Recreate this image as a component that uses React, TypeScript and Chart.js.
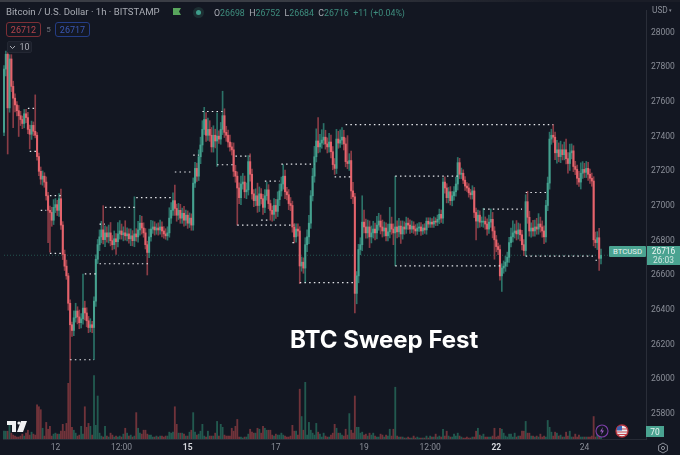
import React, { useEffect, useRef } from "react";
import { Chart, registerables } from "chart.js";

Chart.register(...registerables);

const firstOpen = 27425;
const closes = [
  27790,27875,27566,27848,27690,27622,27583,27550,27521,27499,
  27476,27532,27510,27442,27414,27465,27431,27408,27285,27200,
  27155,27172,27138,27059,26975,26963,26918,26992,27008,26975,
  27042,26890,26721,26653,26597,26439,26315,26282,26355,26394,
  26360,26327,26349,26411,26383,26338,26299,26315,26299,26451,
  26693,26777,26822,26862,26806,26845,26822,26845,26800,26777,
  26811,26794,26839,26856,26834,26845,26828,26839,26811,26828,
  26800,26839,26822,26862,26901,26873,26845,26777,26732,26822,
  26867,26879,26862,26873,26862,26879,26856,26839,26828,26845,
  26930,26975,27031,26986,26947,26975,26930,26958,26918,26947,
  26901,26930,26890,27132,27217,27172,27284,27352,27442,27499,
  27408,27442,27408,27341,27408,27375,27403,27386,27442,27521,
  27425,27408,27369,27341,27324,27200,27172,27104,27048,27127,
  27138,27082,27093,27256,27183,27070,27031,27059,27003,27070,
  27042,26992,27059,27093,27014,26975,26952,27003,26969,27037,
  27087,27127,27172,27082,27065,27014,27003,26879,26822,26867,
  26856,26654,26676,26642,26777,26822,26901,27059,27172,27284,
  27375,27341,27363,27380,27397,27358,27341,27369,27313,27239,
  27217,27386,27363,27380,27397,27358,27256,27245,27262,27087,
  27053,26496,26597,26749,26777,26907,26879,26845,26879,26822,
  26845,26867,26845,26890,26913,26879,26856,26873,26828,26851,
  26896,26867,26845,26879,26851,26884,26839,26879,26867,26901,
  26890,26867,26884,26867,26856,26873,26879,26856,26873,26862,
  26912,26896,26907,26896,26912,26907,26923,26952,26930,27138,
  27104,27048,27082,27031,27059,27082,27127,27250,27183,27189,
  27149,27115,27104,27076,27065,27087,26963,26913,26947,26907,
  26907,26912,26896,26867,26907,26923,26856,26805,26766,26749,
  26597,26642,26653,26676,26704,26789,26822,26845,26856,26839,
  26862,26834,26777,26743,27025,26935,26856,26873,26856,26879,
  26867,26896,26879,26856,26822,27003,27132,27386,27408,27397,
  27307,27324,27285,27324,27296,27324,27273,27245,27307,27318,
  27228,27211,27160,27138,27189,27211,27194,27217,27183,27160,
  27144,26805,26789,26817,26698,26716,
];
const upperWicks = [
  20,18,10,25,25,30,25,20,30,25,
  20,25,25,30,25,25,20,210,15,20,
  25,30,20,30,20,25,30,45,35,25,
  30,56,20,25,35,15,20,15,40,45,
  25,40,30,197,40,30,25,35,20,25,
  25,30,40,50,140,40,35,45,60,30,
  45,30,65,60,40,35,70,35,30,40,
  30,214,30,50,45,40,30,25,20,45,
  50,35,30,25,30,40,30,25,30,35,
  60,45,45,90,25,40,35,30,40,30,
  25,30,25,30,35,30,40,45,50,70,
  40,65,50,45,55,35,135,30,40,141,
  40,35,30,40,25,40,35,25,30,45,
  50,35,40,35,45,30,25,40,73,40,
  30,25,35,45,30,20,25,40,35,45,
  40,40,67,35,25,30,35,25,20,30,
  30,25,30,25,40,40,45,30,45,60,
  70,135,50,60,79,40,35,50,40,30,
  35,56,45,60,55,40,35,150,40,55,
  50,20,25,30,40,152,70,45,40,35,
  40,45,35,50,45,35,40,35,30,45,
  96,40,30,293,35,45,30,35,30,35,
  30,30,30,25,25,25,25,25,20,25,
  20,20,25,20,25,20,25,30,25,25,
  30,25,25,30,25,30,40,30,25,30,
  20,20,20,25,20,30,20,25,30,25,
  30,75,25,30,40,60,40,25,25,20,
  25,25,30,35,30,30,50,70,40,60,
  40,35,25,30,40,60,35,30,45,40,
  50,60,40,35,30,30,35,40,35,62,
  30,55,40,50,30,45,62,35,50,40,
  30,30,25,40,60,45,35,40,35,30,
  30,25,45,35,54,36,
];
const lowerWicks = [
  20,40,266,25,30,170,40,30,120,35,
  30,25,30,25,85,30,25,15,20,25,
  30,35,30,25,187,230,35,25,30,30,
  35,25,30,25,20,40,202,35,30,25,
  40,35,30,30,40,35,30,25,30,185,
  30,25,35,35,25,40,30,35,30,30,
  25,73,30,30,25,35,25,30,25,40,
  30,35,25,30,30,35,25,25,130,30,
  25,25,30,25,30,25,35,25,20,25,
  25,30,30,40,35,25,30,30,35,30,
  30,25,30,30,25,30,25,40,40,30,
  35,30,35,30,30,40,147,25,30,30,
  30,35,30,25,30,30,35,214,35,40,
  30,35,40,30,40,30,35,30,40,35,
  30,40,30,25,30,57,40,35,40,30,
  35,30,30,40,30,35,30,30,35,30,
  30,102,30,30,82,40,40,30,30,35,
  30,35,30,30,25,30,35,30,35,30,
  35,30,30,25,25,35,30,30,40,45,
  40,113,60,40,30,35,35,30,30,62,
  35,30,40,35,30,40,35,30,30,30,
  35,30,68,190,35,30,55,30,30,25,
  25,25,20,25,25,20,20,25,20,20,
  25,20,20,20,20,20,20,25,25,30,
  30,30,30,25,30,25,25,35,25,25,
  20,25,20,25,25,25,30,108,40,30,
  25,30,30,35,25,30,40,112,30,30,
  25,90,30,30,25,30,25,30,30,35,
  30,35,30,30,30,35,30,36,30,30,
  30,30,30,36,40,30,30,35,30,30,
  40,60,30,35,30,30,30,56,40,35,
  30,30,35,25,40,30,30,30,35,30,
  30,35,30,40,70,32,
];
const volumes = [
  8,8,8,16,6,4,3,2,2,3,
  5,3,6,9,4,7,5,4,35,33,
  30,11,3,17,10,13,3,5,6,5,
  5,8,15,8,16,57,81,12,9,6,
  3,4,13,5,33,12,16,13,4,65,
  14,44,6,3,2,13,3,2,6,4,
  2,3,2,3,2,5,11,6,3,4,
  2,3,27,11,6,5,9,9,5,4,
  4,2,2,3,2,3,3,2,3,3,
  7,6,7,33,15,6,6,6,5,3,
  3,7,9,27,7,4,5,8,15,3,
  2,8,3,3,3,6,18,3,15,12,
  4,3,3,3,11,8,13,20,2,2,
  1,2,2,5,10,7,6,6,11,10,
  6,13,11,9,9,9,4,3,5,4,
  4,6,4,3,2,2,3,14,8,8,
  4,51,23,9,58,4,17,9,6,4,
  16,7,5,2,6,3,2,2,4,6,
  15,11,6,6,4,3,10,4,26,9,
  6,44,12,12,6,7,4,5,3,6,
  4,6,3,2,2,5,4,2,4,3,
  10,3,10,53,3,2,2,2,1,1,
  2,1,1,3,1,2,1,1,1,1,
  3,1,3,2,2,5,2,3,2,10,
  3,8,3,2,2,5,3,6,3,2,
  1,1,2,1,1,2,2,8,11,4,
  3,5,2,2,2,2,3,11,2,3,
  11,10,6,3,2,5,5,2,6,2,
  3,3,8,8,18,6,6,3,3,2,
  3,2,5,2,3,2,19,12,7,3,
  7,6,3,4,2,2,7,3,8,2,
  2,5,2,4,2,2,2,2,2,2,
  3,23,2,4,4,3,
];
// [first hour, last hour, price]
const sweepLevels: [number, number, number][] = [
  [13,17,27563],[14,19,27315],[20,23,26975],[25,31,27060],[25,32,26727],
  [52,55,26896],[55,72,26992],[72,92,27048],[52,79,26667],[44,51,26608],
  [36,49,26113],[93,102,27196],[103,106,27294],[108,119,27545],[116,125,27238],
  [126,134,27288],[142,150,27144],[140,145,26918],[127,158,26890],[151,169,27241],
  [157,159,26789],[161,191,26558],[180,189,27168],[186,299,27469],[213,247,27172],
  [213,271,26655],[261,282,26982],[284,296,27078],[284,321,26711],[322,324,26687],
];
const lastPrice = 26716;
const xTickLabels: Record<number, string> = {
  28: "12", 64: "12:00", 100: "15", 148: "17", 196: "19", 232: "12:00", 268: "22", 316: "24",
};
const boldTicks = ["15", "22"];
const hourSlots = 350;
const hourNames = Array.from({ length: hourSlots }, (_, i) => `h${i}`);

const UP = "#46a18f";
const DOWN = "#e5636c";
const UP_WICK = "#2b7268";
const DOWN_WICK = "#8a3c46";
const UP_VOL = "#22594f";
const DOWN_VOL = "#70333a";
const BG = "#131722";
const FONT = "Roboto, sans-serif";

const opens = closes.map((_, i) => (i === 0 ? firstOpen : closes[i - 1]));
const rising = closes.map((c, i) => c >= opens[i]);
const Box: React.FC<{ l: number; t: number; w: number; h: number; style?: React.CSSProperties; children?: React.ReactNode }> = ({ l, t, w, h, style, children }) => (
  <div style={{ position: "absolute", left: l, top: t, width: w, height: h, boxSizing: "border-box", display: "flex", alignItems: "center", justifyContent: "center", fontFamily: FONT, ...style }}>{children}</div>
);

export default function App() {
  const ref = useRef<HTMLCanvasElement>(null);
  useEffect(() => {
    const chart = new Chart(ref.current!, {
      type: "bar",
      data: {
        labels: hourNames,
        datasets: [
          ...sweepLevels.map(([a, b, p]) => ({
            type: "line" as const,
            data: [{ x: hourNames[a], y: p }, { x: hourNames[b], y: p }],
            borderColor: "#e6e8ec",
            borderWidth: 1.2,
            borderDash: [1.5, 3.2],
            pointRadius: 0,
            yAxisID: "y",
            order: 0,
          })),
          {
            type: "line" as const,
            data: [{ x: hourNames[0], y: lastPrice }, { x: hourNames[hourSlots - 1], y: lastPrice }],
            borderColor: "#23544f",
            borderWidth: 1,
            borderDash: [1, 2],
            pointRadius: 0,
            yAxisID: "y",
            order: 5,
          },
          {
            label: "body",
            data: closes.map((c, i) => [opens[i], c]),
            backgroundColor: rising.map((u) => (u ? UP : DOWN)),
            barThickness: 1.4,
            minBarLength: 1,
            grouped: false,
            yAxisID: "y",
            order: 1,
          },
          {
            label: "wick",
            data: closes.map((c, i) => [Math.min(c, opens[i]) - lowerWicks[i], Math.max(c, opens[i]) + upperWicks[i]]),
            backgroundColor: rising.map((u) => (u ? UP_WICK : DOWN_WICK)),
            barThickness: 1,
            grouped: false,
            yAxisID: "y",
            order: 2,
          },
          {
            label: "volume",
            data: volumes,
            backgroundColor: rising.map((u) => (u ? UP_VOL : DOWN_VOL)),
            barThickness: 1.2,
            grouped: false,
            yAxisID: "vol",
            order: 3,
          },
        ] as any,
      },
      options: {
        responsive: false,
        animation: false,
        events: [],
        layout: { padding: 0, autoPadding: false },
        plugins: { legend: { display: false }, tooltip: { enabled: false }, title: { display: false } },
        scales: {
          x: {
            type: "category",
            grid: { display: false, drawTicks: false },
            border: { color: "#262a35", display: true },
            afterFit: (s: any) => { s.height = 16; },
            ticks: {
              autoSkip: false,
              maxRotation: 0,
              padding: 4,
              callback: (_: any, i: number) => xTickLabels[i] ?? "",
              color: (c: any) => (boldTicks.includes(xTickLabels[c.index]) ? "#d6d8dd" : "#8a8e98"),
              font: (c: any) => ({ family: FONT, size: 8.5, weight: boldTicks.includes(xTickLabels[c.index]) ? "bold" : "normal" }),
            },
          },
          y: {
            position: "right",
            min: 25656,
            max: 28130,
            grid: { display: false, drawTicks: false },
            border: { color: "#2a2e39", display: true },
            afterFit: (s: any) => { s.width = 34; },
            afterBuildTicks: (s: any) => {
              s.ticks = s.ticks.filter((t: any) => t.value % 200 === 0);
            },
            ticks: {
              stepSize: 200,
              padding: 5,
              color: "#8a8e98",
              font: { family: FONT, size: 8.5 },
              callback: (v: any) => String(v),
            },
          },
          vol: { display: false, min: 0, max: 439 },
        },
      } as any,
    });
    return () => chart.destroy();
  }, []);

  return (
    <div style={{ position: "fixed", left: 0, top: 0, width: 680, height: 455, background: BG, overflow: "hidden", fontFamily: FONT }}>
      <canvas ref={ref} width={680} height={455} style={{ position: "absolute", left: 0, top: 0, display: "block" }} />
      <div style={{ position: "absolute", left: 0, top: 0, width: 680, height: 2, background: "linear-gradient(90deg,#3a3d45 0%,#3a3d45 40%,#1a1d27 80%)" }} />

      <div style={{ position: "absolute", left: 6, top: 6, fontSize: 9.6, color: "#a9acb4", whiteSpace: "nowrap", lineHeight: "12px" }}>Bitcoin / U.S. Dollar · 1h · BITSTAMP</div>
      <div style={{ position: "absolute", left: 173, top: 8, width: 8, height: 7, background: "#58a55c", clipPath: "polygon(0 0,100% 0,75% 50%,100% 100%,0 100%)" }} />
      <div style={{ position: "absolute", left: 193, top: 7, width: 11, height: 11, borderRadius: 6, background: "#1d2f33" }} />
      <div style={{ position: "absolute", left: 196, top: 10, width: 5, height: 5, borderRadius: 3, background: "#3f9e8c" }} />
      <div style={{ position: "absolute", left: 214, top: 7, fontSize: 8.8, whiteSpace: "nowrap", lineHeight: "12px", color: "#3e8d7e" }}>
        <span style={{ color: "#a9acb4" }}>O</span>26698 <span style={{ color: "#a9acb4" }}>&nbsp;H</span>26752 <span style={{ color: "#a9acb4" }}>&nbsp;L</span>26684 <span style={{ color: "#a9acb4" }}>&nbsp;C</span>26716 &nbsp;+11 (+0.04%)
      </div>

      <Box l={6} t={22} w={35} h={15} style={{ border: "1px solid #7c2f36", borderRadius: 3, color: "#b5454d", fontSize: 9 }}>26712</Box>
      <Box l={44} t={22} w={9} h={15} style={{ color: "#6f737c", fontSize: 8 }}>5</Box>
      <Box l={55} t={22} w={35} h={15} style={{ border: "1px solid #243d85", borderRadius: 3, color: "#3a58b4", fontSize: 9 }}>26717</Box>
      <Box l={7} t={41} w={25} h={12} style={{ background: "#1b1f2a", border: "1px solid #232733", borderRadius: 2, color: "#a9acb4", fontSize: 9 }}>
        <svg width="7" height="5" viewBox="0 0 7 5" style={{ marginRight: 3 }}><path d="M1 1l2.5 2.5L6 1" stroke="#a9acb4" fill="none" /></svg>10
      </Box>

      <div style={{ position: "absolute", left: 652, top: 5, fontSize: 8.3, color: "#8a8e98", lineHeight: "11px", whiteSpace: "nowrap" }}>USD<span style={{ fontSize: 5, marginLeft: 1, verticalAlign: "1px" }}>▾</span></div>

      <div style={{ position: "absolute", left: 290, top: 325, fontSize: 24, fontWeight: 700, color: "#fff", whiteSpace: "nowrap", lineHeight: "30px", fontFamily: "Inter, sans-serif" }}>BTC Sweep Fest</div>

      <Box l={609} t={246} w={37} h={10.5} style={{ background: "#4aa391", color: "#e8f3f0", fontSize: 7.8, borderRadius: 1 }}>BTCUSD</Box>
      <div style={{ position: "absolute", left: 647, top: 246, width: 33, height: 19, background: "#4aa391", color: "#eef6f4", fontSize: 8.4, lineHeight: "9px", textAlign: "center", paddingTop: 1, boxSizing: "border-box" }}>26716<br /><span style={{ color: "#cfe6e1" }}>26:03</span></div>
      <Box l={646} t={426} w={18} h={11} style={{ background: "#4aa391", color: "#e8f3f0", fontSize: 8.4 }}>70</Box>

      <svg style={{ position: "absolute", left: 7, top: 421 }} width="21" height="11" viewBox="0 0 21 11">
        <path d="M0 0h9v11H5V4H0z M10 11l4-11h6l-4 11z" fill="#f0f0f2" />
        <circle cx="12" cy="2" r="1.6" fill="#f0f0f2" />
      </svg>
      <svg style={{ position: "absolute", left: 595, top: 424 }} width="14" height="14" viewBox="0 0 14 14">
        <circle cx="7" cy="7" r="6" fill="#131722" stroke="#7d3fa8" strokeWidth="1.1" />
        <path d="M8 3L5 7.6h2L6 11l3-4.6H7z" fill="#9c5fc4" />
      </svg>
      <svg style={{ position: "absolute", left: 615, top: 424 }} width="14" height="14" viewBox="0 0 14 14">
        <circle cx="7" cy="7" r="6" fill="#e9ecf2" stroke="#b5303a" strokeWidth="1.3" />
        <path d="M1.5 5h11M1.5 8h11M2.5 10.5h9" stroke="#c8434b" strokeWidth="1.2" />
        <path d="M2 6.5V3.5A5 5 0 0 1 7 2v4.5z" fill="#3d62b0" />
      </svg>
      <svg style={{ position: "absolute", left: 657, top: 442 }} width="12" height="12" viewBox="0 0 12 12">
        <path d="M6 1l4.4 2.5v5L6 11 1.6 8.5v-5z" fill="none" stroke="#8a8e98" strokeWidth="1" />
        <circle cx="6" cy="6" r="1.6" fill="none" stroke="#8a8e98" strokeWidth="1" />
      </svg>
    </div>
  );
}
